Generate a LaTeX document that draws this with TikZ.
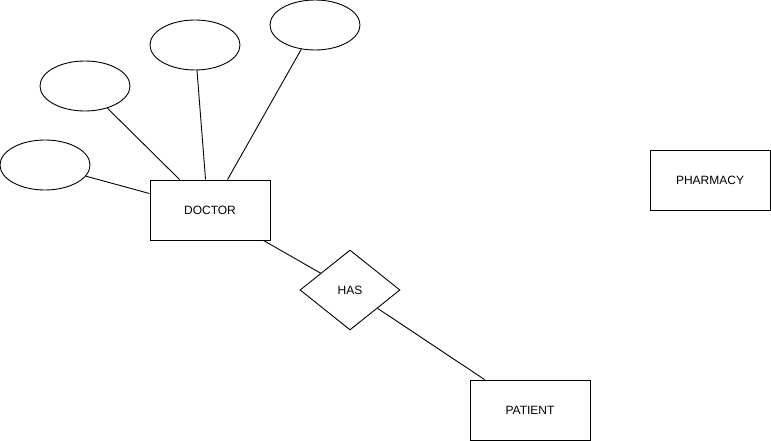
\documentclass[tikz,border=0pt]{standalone}
\usepackage{fontspec}
\setmainfont{Liberation Sans}
\usetikzlibrary{shapes.geometric,calc}
\begin{document}
\begin{tikzpicture}[x=1pt,y=-1pt,line width=0.9pt,
  attr/.style={draw,ellipse,minimum width=90pt,minimum height=50pt,inner sep=0pt},
  ent/.style={draw,rectangle,minimum width=120pt,minimum height=60pt,inner sep=0pt,font=\fontsize{12}{14}\selectfont},
  rel/.style={draw,diamond,minimum width=100pt,minimum height=80pt,inner sep=0pt,aspect=1.25,font=\fontsize{12}{14}\selectfont}]
\useasboundingbox (0,0) rectangle (771,441);
\node[attr] (e1) at (45,165) {};
\node[attr] (e2) at (85,86) {};
\node[attr] (e3) at (195,45) {};
\node[attr] (e4) at (315,25) {};
\node[ent] (doc) at (210,210) {DOCTOR};
\node[ent] (pha) at (710,180) {PHARMACY};
\node[ent] (pat) at (530,410) {PATIENT};
\node[rel] (has) at (350,290) {HAS};
\coordinate (p1) at ($(doc.north west)+(0,14)$);
\coordinate (p2) at ($(doc.north west)+(30,0)$);
\coordinate (p3) at ($(doc.north west)+(56,0)$);
\coordinate (p4) at ($(doc.north west)+(78,0)$);
\coordinate (p5) at ($(doc.south east)+(-7,0)$);
\coordinate (p6) at ($(pat.north west)+(15,0)$);
\draw (e1) -- (p1);
\draw (e2) -- (p2);
\draw (e3) -- (p3);
\draw (e4) -- (p4);
\draw (p5) -- (has);
\draw (has) -- (p6);
\end{tikzpicture}
\end{document}
